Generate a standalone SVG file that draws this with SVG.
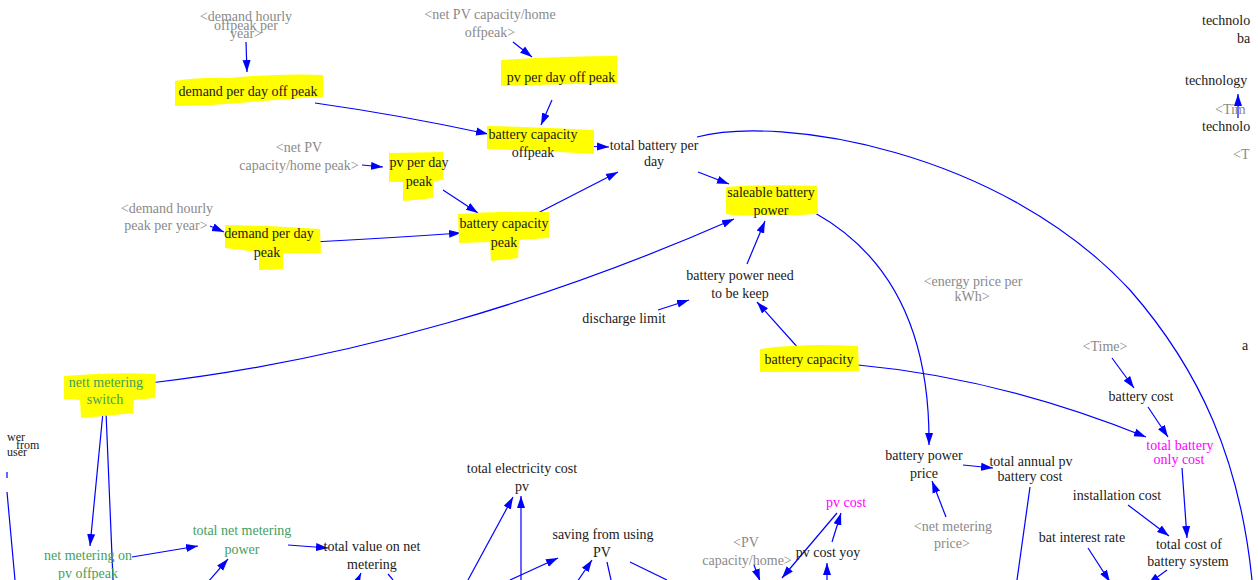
<svg xmlns="http://www.w3.org/2000/svg" width="1258" height="580" viewBox="0 0 1258 580">
<defs>
<marker id="ah" markerUnits="userSpaceOnUse" markerWidth="13" markerHeight="10" refX="12" refY="5" orient="auto"><path d="M0,1 L12,5 L0,9 z" fill="#0000ff"/></marker>
<style>
text{font-family:"Liberation Serif","Times New Roman",serif;font-size:14px;fill:#1a1a1a;text-anchor:middle}
.g{fill:#8a8a8a}
.m{fill:#ff00ff}
.gr{fill:#3f9f5f}
.hl{fill:#ffff00}
.c{fill:none;stroke:#0000ff;stroke-width:1.2}
.a{marker-end:url(#ah)}
</style>
</defs>
<rect width="1258" height="580" fill="#ffffff"/>

<g id="connectors">
<path class="c a" d="M246,42 L247,72"/>
<path class="c a" d="M513,42 L532,57"/>
<path class="c a" d="M552,100 L541,125"/>
<path class="c a" d="M315,103 Q400,115 488,134"/>
<path class="c a" d="M578,146 L609,147"/>
<path class="c a" d="M362,165 L383,167"/>
<path class="c a" d="M443,190 L478,213"/>
<path class="c a" d="M538,213 L618,172"/>
<path class="c a" d="M210,226 L224,232"/>
<path class="c a" d="M313,242 Q390,238 461,233"/>
<path class="c a" d="M698,172 L729,184"/>
<path class="c" d="M697,137 C780,115 1000,150 1130,290 C1200,370 1240,460 1252,580"/>
<path class="c a" d="M747,264 L765,221"/>
<path class="c a" d="M658,310 L689,300"/>
<path class="c a" d="M800,350 L757,302"/>
<path class="c a" d="M815,213 C890,255 930,330 929,445"/>
<path class="c a" d="M150,383 C350,360 550,300 734,219"/>
<path class="c a" d="M1112,358 L1134,388"/>
<path class="c a" d="M858,365 Q1000,378 1146,437"/>
<path class="c a" d="M1148,407 L1168,437"/>
<path class="c a" d="M1182,468 L1187,538"/>
<path class="c a" d="M1128,505 L1169,536"/>
<path class="c a" d="M1088,548 L1110,582"/>
<path class="c a" d="M1167,570 L1148,584"/>
<path class="c a" d="M963,465 L993,468"/>
<path class="c a" d="M946,517 L932,481"/>
<path class="c" d="M1030,487 L1017,580"/>
<path class="c a" d="M832,542 L841,513"/>
<path class="c a" d="M837,513 L782,578"/>
<path class="c a" d="M827,584 L827,563"/>
<path class="c a" d="M754,565 L760,581"/>
<path class="c a" d="M468,580 L513,497"/>
<path class="c a" d="M521,580 L521,496"/>
<path class="c a" d="M510,580 L558,558"/>
<path class="c a" d="M577,582 L592,560"/>
<path class="c" d="M607,562 L611,580"/>
<path class="c" d="M630,562 L667,580"/>
<path class="c a" d="M103,412 L90,546"/>
<path class="c" d="M106,412 L113,580"/>
<path class="c" d="M7,472 L7,478 M7,492 L15,580"/>
<path class="c a" d="M132,557 L198,546"/>
<path class="c a" d="M208,582 L228,559"/>
<path class="c a" d="M288,545 L328,548"/>
<path class="c a" d="M356,584 L361,573"/>
<path class="c" d="M388,574 L393,580"/>
<path class="c a" d="M1238,118 L1238,94"/>
</g>

<g id="demand_hourly_offpeak"><text class="g" x="246" y="21">&lt;demand hourly</text><text class="g" x="246" y="30">offpeak per</text><text class="g" x="246" y="38">year&gt;</text></g>
<g id="demand_per_day_off_peak"><path class="hl" d="M175,81 Q200,77 230,78 Q280,73 323,75 L323,97 Q280,99 240,103 Q205,106 175,106 Z"/><text x="248" y="96">demand per day off peak</text></g>
<g id="net_pv_offpeak"><text class="g" x="490" y="19">&lt;net PV capacity/home</text><text class="g" x="490" y="37">offpeak&gt;</text></g>
<g id="pv_per_day_off_peak"><path class="hl" d="M501,60 Q560,56 617,56 L617,83 Q560,84 501,86 Z"/><text x="561" y="82">pv per day off peak</text></g>
<g id="battery_capacity_offpeak"><path class="hl" d="M487,126 Q540,127 594,130 L594,154 Q560,152 540,151 L512,150 Q500,149 487,149 Z"/><text x="533" y="139">battery capacity</text><text x="533" y="157">offpeak</text></g>
<g id="total_battery_per_day"><text x="654" y="150">total battery per</text><text x="654" y="166">day</text></g>
<g id="net_pv_peak"><text class="g" x="299" y="152">&lt;net PV</text><text class="g" x="299" y="170">capacity/home peak&gt;</text></g>
<g id="pv_per_day_peak"><path class="hl" d="M389,153 L443,152 L443,180 L434,181 L433,198 Q418,200 403,201 L403,182 L389,182 Z"/><text x="419" y="167">pv per day</text><text x="419" y="186">peak</text></g>
<g id="battery_capacity_peak"><path class="hl" d="M458,214 Q500,211 549,212 L549,238 L519,240 L518,258 Q505,260 491,261 L490,242 L459,243 Z"/><text x="504" y="228">battery capacity</text><text x="504" y="247">peak</text></g>
<g id="demand_hourly_peak"><text class="g" x="167" y="213">&lt;demand hourly</text><text class="g" x="166" y="230">peak per year&gt;</text></g>
<g id="demand_per_day_peak"><path class="hl" d="M225,225 L268,226 L320,229 L321,253 L283,253 L283,269 Q270,270 259,270 L259,252 L225,248 Z"/><text x="269" y="238">demand per day</text><text x="267" y="257">peak</text></g>
<g id="saleable_battery_power"><path class="hl" d="M726,187 Q770,184 817,186 L818,214 Q790,216 760,215 Q740,217 726,214 Z"/><text x="771" y="197">saleable battery</text><text x="771" y="215">power</text></g>
<g id="battery_power_need"><text x="740" y="280">battery power need</text><text x="740" y="298">to be keep</text></g>
<g id="discharge_limit"><text x="624" y="323">discharge limit</text></g>
<g id="battery_capacity"><path class="hl" d="M760,349 Q800,343 858,346 L859,371 Q810,372 760,372 Z"/><text x="809" y="364">battery capacity</text></g>
<g id="energy_price"><text class="g" x="973" y="286">&lt;energy price per</text><text class="g" x="972" y="301">kWh&gt;</text></g>
<g id="time1"><text class="g" x="1105" y="351">&lt;Time&gt;</text></g>
<g id="battery_cost"><text x="1141" y="401">battery cost</text></g>
<g id="total_battery_only_cost"><text class="m" x="1180" y="450">total battery</text><text class="m" x="1179" y="464">only cost</text></g>
<g id="installation_cost"><text x="1117" y="500">installation cost</text></g>
<g id="bat_interest_rate"><text x="1082" y="542">bat interest rate</text></g>
<g id="total_cost_battery_system"><text x="1189" y="549">total cost of</text><text x="1188" y="566">battery system</text></g>
<g id="battery_power_price"><text x="924" y="460">battery power</text><text x="924" y="478">price</text></g>
<g id="total_annual_pv_battery_cost"><text x="1031" y="466">total annual pv</text><text x="1030" y="481">battery cost</text></g>
<g id="net_metering_price"><text class="g" x="953" y="531">&lt;net metering</text><text class="g" x="952" y="548">price&gt;</text></g>
<g id="pv_cost"><text class="m" x="846" y="507">pv cost</text></g>
<g id="pv_cost_yoy"><text x="828" y="557">pv cost yoy</text></g>
<g id="pv_capacity_home"><text class="g" x="746" y="547">&lt;PV</text><text class="g" x="747" y="565">capacity/home&gt;</text></g>
<g id="time2"><text class="g" x="834" y="590">&lt;Time&gt;</text></g>
<g id="total_electricity_cost_pv"><text x="522" y="473">total electricity cost</text><text x="522" y="491">pv</text></g>
<g id="saving_from_using_pv"><text x="603" y="539">saving from using</text><text x="602" y="557">PV</text></g>
<g id="nett_metering_switch"><path class="hl" d="M64,376 Q110,372 156,374 L155,398 L134,400 L133,413 Q105,416 81,418 L80,400 L64,399 Z"/><text class="gr" x="106" y="387">nett metering</text><text class="gr" x="105" y="404">switch</text></g>
<g id="power_from_user"><text x="7" y="441" style="text-anchor:start;font-size:12px">wer</text><text x="16" y="449" style="text-anchor:start;font-size:12px">from</text><text x="7" y="456" style="text-anchor:start;font-size:12px">user</text></g>
<g id="net_metering_on_pv_offpeak"><text class="gr" x="88" y="560">net metering on</text><text class="gr" x="88" y="578">pv offpeak</text></g>
<g id="total_net_metering_power"><text class="gr" x="242" y="535">total net metering</text><text class="gr" x="242" y="554">power</text></g>
<g id="total_value_on_net_metering"><text x="372" y="551">total value on net</text><text x="372" y="569">metering</text></g>
<g id="right_edge"><text x="1202" y="25" style="text-anchor:start">technolo</text><text x="1237" y="43" style="text-anchor:start">ba</text><text x="1185" y="85" style="text-anchor:start">technology</text><text class="g" x="1215" y="114" style="text-anchor:start">&lt;Tim</text><text x="1202" y="131" style="text-anchor:start">technolo</text><text class="g" x="1233" y="159" style="text-anchor:start">&lt;T</text><text x="1242" y="350" style="text-anchor:start">a</text></g>
</svg>
